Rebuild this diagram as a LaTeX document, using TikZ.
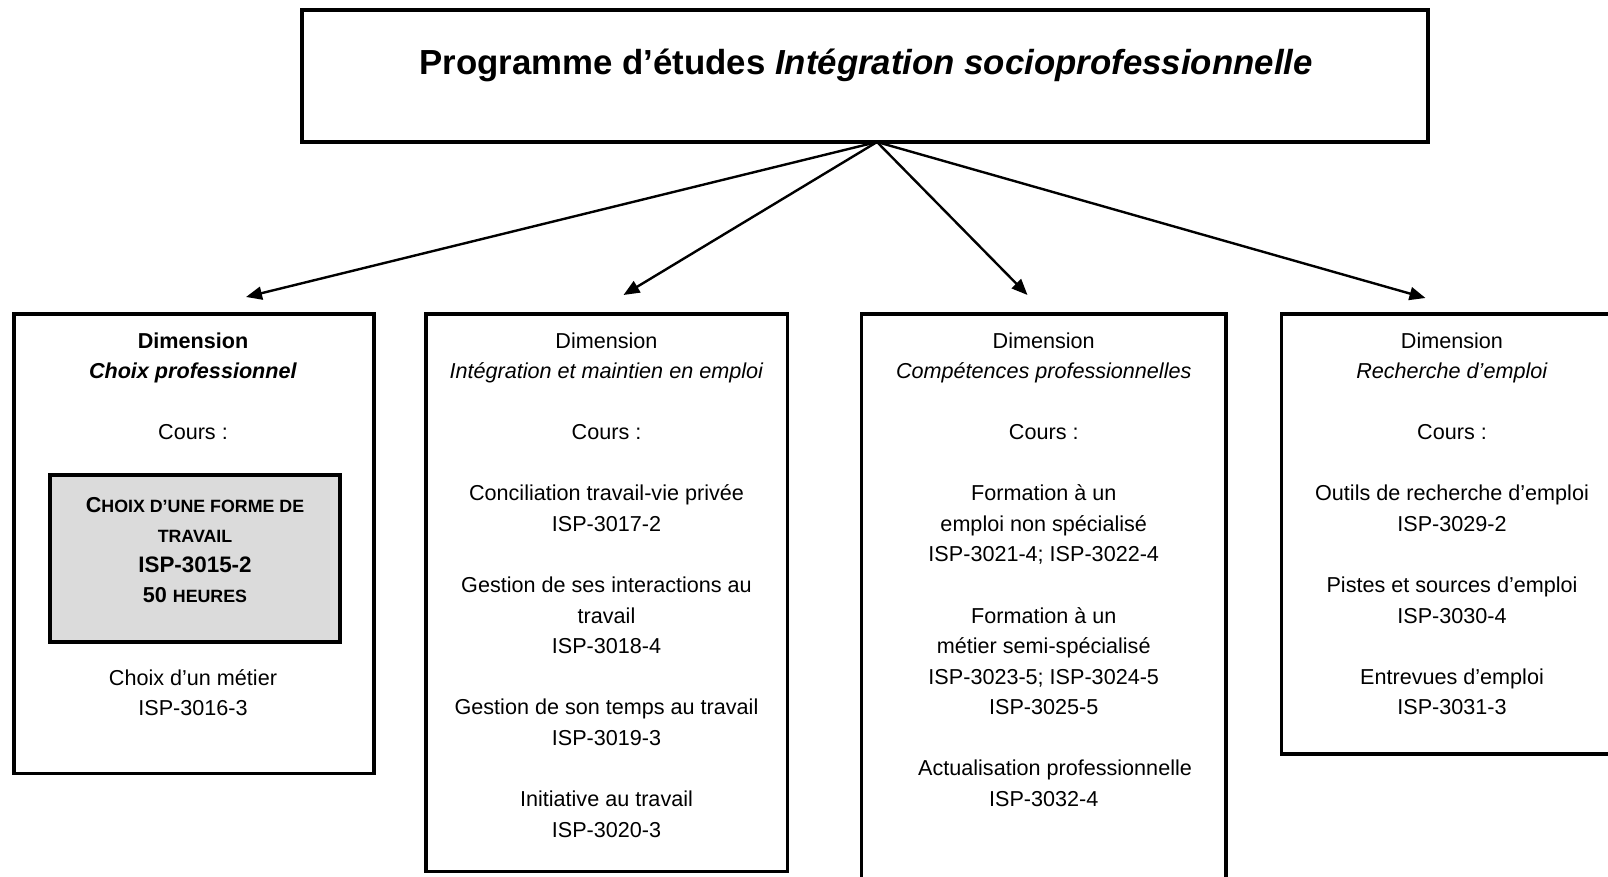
\documentclass[tikz,border=0pt]{standalone}
\usepackage{fontspec}
\setmainfont{Liberation Sans}
\usetikzlibrary{arrows.meta}
\begin{document}
\begin{tikzpicture}[x=0.5pt,y=-0.5pt,
    cadre/.style={draw,line width=1.8pt,outer sep=0pt,inner sep=0pt},
    gris/.style={cadre,fill=black!14},
    texte/.style={anchor=north,inner sep=0pt,align=center,font=\fontsize{10.8}{15.28}\selectfont},
    fleche/.style={line width=1.2pt,-{Triangle[length=8pt,width=6.5pt]}}]
    \useasboundingbox (0,0) rectangle (1608,877);
    \clip (0,0) rectangle (1608,877);
    \node[cadre,line width=2pt,minimum width=563pt,minimum height=66pt] (programme) at (865,76) {};
    \node[anchor=base,inner sep=0pt,font=\bfseries\fontsize{17.4}{20}\selectfont] (titre) at (866,75)
      {Programme d’études \textit{Intégration socioprofessionnelle}};
    \node[cadre,minimum width=180pt,minimum height=229.75pt] (choix) at (194,543.75) {};
    \node[cadre,minimum width=180.75pt,minimum height=278.75pt] (integration) at (606.75,592.75) {};
    \node[cadre,minimum width=182.25pt,minimum height=323pt] (competences) at (1043.75,637) {};
    \node[cadre,minimum width=170.75pt,minimum height=220pt] (recherche) at (1452.25,534) {};
    \node[gris,minimum width=145pt,minimum height=83.5pt] (forme) at (195,558.5) {};
    \node[texte] (choixtxt) at (193,332)
      {\textbf{Dimension}\\ \textbf{\textit{Choix professionnel}}\\[15.28pt] Cours :};
    \node[texte,font=\bfseries\fontsize{10.8}{15.1}\selectfont] (formetxt) at (195,496.6)
      {C{\fontsize{8.9}{15.1}\selectfont HOIX D’UNE FORME DE}\\
       {\fontsize{8.9}{15.1}\selectfont TRAVAIL}\\
       {\fontsize{11.2}{15.1}\selectfont ISP-3015-2}\\
       50 {\fontsize{8.9}{15.1}\selectfont HEURES}};
    \node[texte] (metiertxt) at (193,669) {Choix d’un métier\\ ISP-3016-3};
    \node[texte] (integrationtxt) at (606.5,332)
      {Dimension\\ \textit{Intégration et maintien en emploi}\\[15.28pt]
       Cours :\\[15.28pt]
       Conciliation travail-vie privée\\ ISP-3017-2\\[15.28pt]
       Gestion de ses interactions au\\ travail\\ ISP-3018-4\\[15.28pt]
       Gestion de son temps au travail\\ ISP-3019-3\\[15.28pt]
       Initiative au travail\\ ISP-3020-3};
    \node[texte] (competencestxt) at (1043.75,332)
      {Dimension\\ \textit{Compétences professionnelles}\\[15.28pt]
       Cours :\\[15.28pt]
       Formation à un\\ emploi non spécialisé\\ ISP-3021-4; ISP-3022-4\\[15.28pt]
       Formation à un\\ métier semi-spécialisé\\ ISP-3023-5; ISP-3024-5\\ ISP-3025-5\\[15.28pt]
       \hspace*{11.3pt}Actualisation professionnelle\\ ISP-3032-4};
    \node[texte] (recherchetxt) at (1452,332)
      {Dimension\\ \textit{Recherche d’emploi}\\[15.28pt]
       Cours :\\[15.28pt]
       Outils de recherche d’emploi\\ ISP-3029-2\\[15.28pt]
       Pistes et sources d’emploi\\ ISP-3030-4\\[15.28pt]
       Entrevues d’emploi\\ ISP-3031-3};
    \coordinate (depart) at ([xshift=6pt]programme.south);
    \coordinate (verschoix) at (246,297);
    \coordinate (versintegration) at (623.5,295);
    \coordinate (verscompetences) at (1027.5,295);
    \coordinate (versrecherche) at (1425.5,298);
    \foreach \cible in {verschoix,versintegration,verscompetences,versrecherche}{
      \draw[fleche] (depart) -- (\cible);
    };
  \end{tikzpicture}
\end{document}
